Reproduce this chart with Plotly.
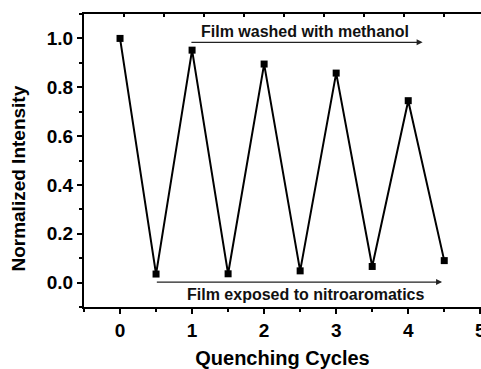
import plotly.graph_objects as go

cycles = [0, 0.5, 1, 1.5, 2, 2.5, 3, 3.5, 4, 4.5]
intensity = [1.0, 0.035, 0.952, 0.036, 0.895, 0.048, 0.858, 0.066, 0.745, 0.090]
x_ticks = [0, 1, 2, 3, 4, 5]
y_ticks = [0.0, 0.2, 0.4, 0.6, 0.8, 1.0]
label_top = "Film washed with methanol"
label_bottom = "Film exposed to nitroaromatics"

FONT = "Liberation Sans, Arial, sans-serif"

fig = go.Figure()
fig.add_trace(go.Scatter(
    x=cycles, y=intensity, mode="lines+markers",
    line=dict(color="black", width=2),
    marker=dict(symbol="square", size=7, color="black"),
    showlegend=False,
))
# invisible trace for top axis
fig.add_trace(go.Scatter(x=[0], y=[0], xaxis="x2", mode="markers",
                         marker=dict(opacity=0), showlegend=False, hoverinfo="skip"))

fig.update_layout(
    width=481, height=369,
    margin=dict(l=84, r=0, t=14, b=62),
    paper_bgcolor="white", plot_bgcolor="white",
    font=dict(family=FONT, color="black"),
    xaxis=dict(
        range=[-0.5, 5.01], tickvals=x_ticks, ticktext=[str(v) for v in x_ticks],
        showline=True, linecolor="black", linewidth=2, mirror=False,
        ticks="outside", ticklen=5, tickwidth=2, tickcolor="black",
        minor=dict(dtick=0.5, tick0=0, ticks="outside", ticklen=3, tickwidth=2, tickcolor="black"),
        showgrid=False, zeroline=False, automargin=False, ticklabeloverflow="allow",
        tickfont=dict(size=19, family=FONT, weight="bold"),
        title=dict(text="<b>Quenching Cycles</b>", font=dict(size=20, family=FONT), standoff=12),
    ),
    xaxis2=dict(
        overlaying="x", side="top", range=[0, 397 / 40], dtick=1, tick0=0,
        showline=True, linecolor="black", linewidth=2,
        ticks="inside", ticklen=3, tickwidth=1.5, tickcolor="black",
        showticklabels=False, showgrid=False, zeroline=False, automargin=False,
    ),
    yaxis=dict(
        range=[-0.1, 1.1], tickvals=y_ticks, ticktext=[f"{v:.1f}" for v in y_ticks],
        showline=True, linecolor="black", linewidth=2, mirror=False,
        ticks="outside", ticklen=5, tickwidth=2, tickcolor="black",
        minor=dict(dtick=0.1, tick0=0, ticks="outside", ticklen=3, tickwidth=2, tickcolor="black"),
        showgrid=False, zeroline=False, automargin=False,
        tickfont=dict(size=19, family=FONT, weight="bold"),
    ),
)

# y-axis title (placed slightly below the plot centre as in the reference)
fig.add_annotation(x=0, xref="paper", xanchor="center", xshift=-65, y=0.426, yref="y",
                   yanchor="middle", showarrow=False, textangle=-90,
                   text="<b>Normalized Intensity</b>",
                   font=dict(size=19, family=FONT, color="black"))

# arrows
fig.add_annotation(x=4.2, y=0.984, ax=0.97, ay=0.984, xref="x", yref="y", axref="x", ayref="y",
                   showarrow=True, arrowhead=2, arrowsize=1, arrowwidth=1.2, arrowcolor="#222", text="")
fig.add_annotation(x=4.47, y=0.002, ax=0.49, ay=0.002, xref="x", yref="y", axref="x", ayref="y",
                   showarrow=True, arrowhead=2, arrowsize=1, arrowwidth=1.2, arrowcolor="#222", text="")
fig.add_annotation(x=2.57, y=1.03, xref="x", yref="y", showarrow=False,
                   text=f"<b>{label_top}</b>", font=dict(size=16, family=FONT, color="#111"))
fig.add_annotation(x=2.58, y=-0.047, xref="x", yref="y", showarrow=False,
                   text=f"<b>{label_bottom}</b>", font=dict(size=16, family=FONT, color="#111"))

fig.write_html("out.html")
